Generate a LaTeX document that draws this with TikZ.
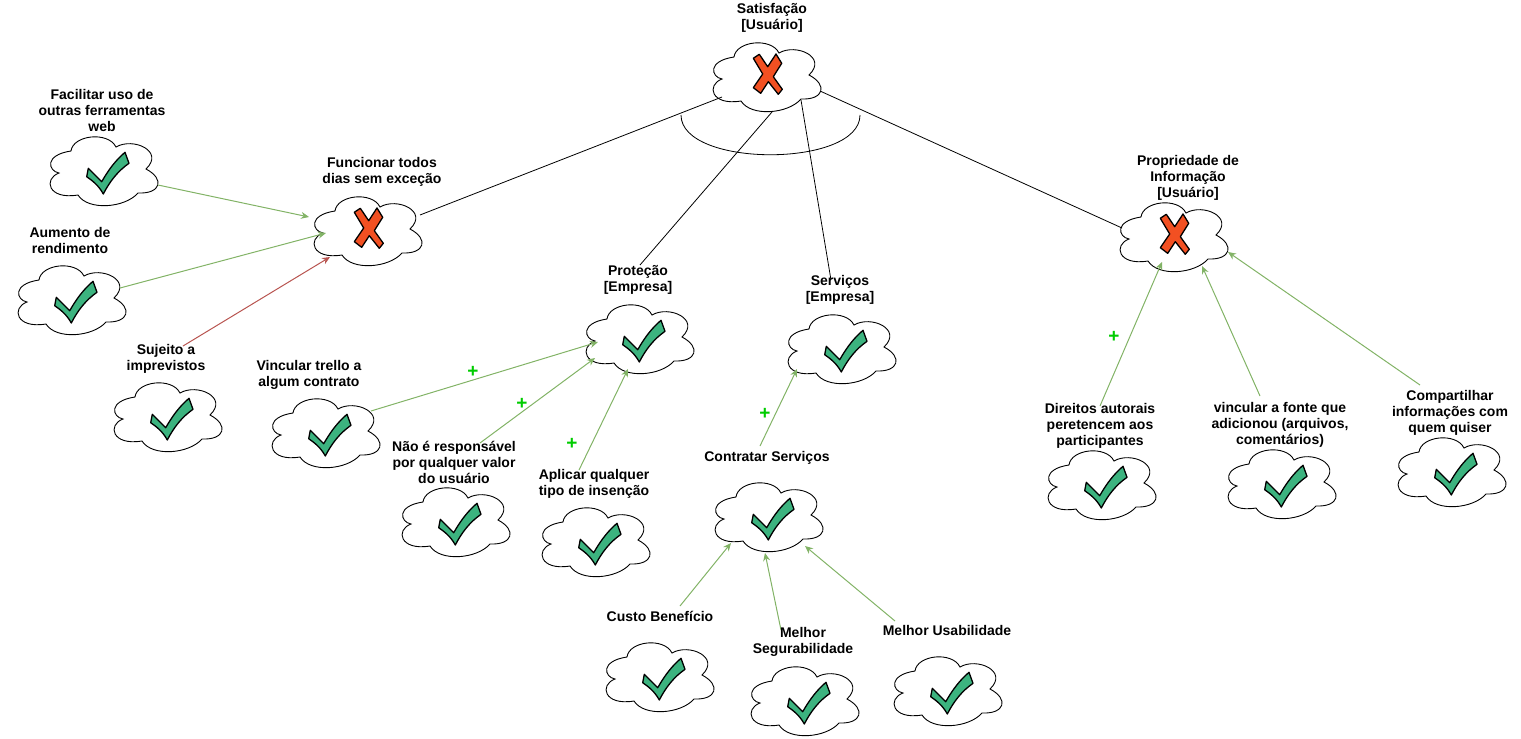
\documentclass[tikz,border=0pt]{standalone}
\usepackage{fontspec}
\setmainfont{Liberation Sans}
\usetikzlibrary{arrows.meta}
\definecolor{okgreen}{HTML}{82B366}
\definecolor{badred}{HTML}{B85450}
\definecolor{plusgreen}{HTML}{00CC00}
\definecolor{checkfill}{HTML}{3CB37F}
\definecolor{crossfill}{HTML}{F25022}
\tikzset{
  lab/.style={align=center, inner sep=0pt, font=\fontsize{14}{16}\selectfont\bfseries},
  hub/.style={inner sep=0pt, minimum size=0pt},
  plusmark/.style={inner sep=0pt, text=plusgreen, font=\fontsize{19}{19}\selectfont\bfseries},
  good/.style={->, okgreen, line width=1pt},
  bad/.style={->, badred, line width=1pt},
  link/.style={black, line width=0.8pt},
  cloudy/.pic={
    \draw[line width=0.9pt, fill=white] (-45,2) .. controls (-56,0) and (-60,-16) .. (-33,-20)
      .. controls (-31,-36) and (4,-40) .. (12,-24)
      .. controls (29,-34) and (61,-20) .. (42,-2)
      .. controls (61,8) and (57,23) .. (34,22)
      .. controls (21,37) and (-16,40) .. (-26,24)
      .. controls (-56,29) and (-61,8) .. cycle;
  },
  okmark/.pic={
    \pic {cloudy};
    \draw[line width=1.3pt, fill=checkfill, line join=round] (-15.7,-2.7) -- (-2.3,10.7)
      .. controls (5,-2) and (12,-11) .. (21,-18.7) -- (25,-7.7)
      .. controls (14,0) and (6,10) .. (-0.7,23) .. controls (-5,15) and (-11,10) .. (-17.3,5.7) -- cycle;
  },
  nomark/.pic={
    \pic {cloudy};
    \draw[line width=1.3pt, fill=crossfill, line join=round] (-13.7,-18.7) -- (-7.7,-22.7) -- (0.7,-10.3)
      -- (9,-23) -- (14.7,-13.7) -- (6.3,-0.3) -- (15.3,12.3) -- (11.3,17.3) -- (1.3,4.7)
      -- (-6.3,16.3) -- (-13.7,10.7) -- (-4.3,-3) -- cycle;
  }
}

\begin{document}
\begin{tikzpicture}[x=1pt, y=-1pt, >={Stealth[length=8pt,width=7pt]}]
  \useasboundingbox (0,0) rectangle (1521,739);

  % clouds
  \node(sat)[hub] at (767,77) {};
  \node(facil)[hub] at (104,171) {};
  \node(aum)[hub] at (72,300) {};
  \node(func)[hub] at (368,231) {};
  \node(suj)[hub] at (168,417) {};
  \node(vinc)[hub] at (326,433) {};
  \node(nao)[hub] at (456,522) {};
  \node(apl)[hub] at (596,542) {};
  \node(prot)[hub] at (640,339) {};
  \node(serv)[hub] at (842,349) {};
  \node(contr)[hub] at (769,517) {};
  \node(custo)[hub] at (660,677) {};
  \node(segur)[hub] at (805,701) {};
  \node(usab)[hub] at (948,691) {};
  \node(prop)[hub] at (1174,237) {};
  \node(dir)[hub] at (1102,485) {};
  \node(fonte)[hub] at (1282,484) {};
  \node(comp)[hub] at (1452,472) {};

  \pic at (sat) {nomark};
  \pic at (func) {nomark};
  \pic at (prop) {nomark};
  \pic at (facil) {okmark};
  \pic at (aum) {okmark};
  \pic at (suj) {okmark};
  \pic at (vinc) {okmark};
  \pic at (nao) {okmark};
  \pic at (apl) {okmark};
  \pic at (prot) {okmark};
  \pic at (serv) {okmark};
  \pic at (contr) {okmark};
  \pic at (custo) {okmark};
  \pic at (segur) {okmark};
  \pic at (usab) {okmark};
  \pic at (dir) {okmark};
  \pic at (fonte) {okmark};
  \pic at (comp) {okmark};

  % links
  \draw[link] ([shift={(52,-16)}]func.center) -- ([shift={(-45,20)}]sat.center);
  \draw[link] ([shift={(0,-74)}]prot.center) -- ([shift={(5,35)}]sat.center);
  \draw[link] ([shift={(-11,-69)}]serv.center) -- ([shift={(34,23)}]sat.center);
  \draw[link] ([shift={(-52,-9)}]prop.center) -- ([shift={(53,14)}]sat.center);
  \draw[good] ([shift={(54,14)}]facil.center) -- ([shift={(-59,-14)}]func.center);
  \draw[good] ([shift={(48,-12)}]aum.center) -- ([shift={(-42,2)}]func.center);
  \draw[bad] ([shift={(15,-71)}]suj.center) -- ([shift={(-38,26)}]func.center);
  \draw[good] ([shift={(45,-22)}]vinc.center) -- ([shift={(-42,3)}]prot.center);
  \draw[good] ([shift={(24,-79)}]nao.center) -- ([shift={(-45,19)}]prot.center);
  \draw[good] ([shift={(-17,-72)}]apl.center) -- ([shift={(-12,30)}]prot.center);
  \draw[good] ([shift={(-9,-71)}]contr.center) -- ([shift={(-45,20)}]serv.center);
  \draw[good] ([shift={(20,-71)}]custo.center) -- ([shift={(-38,26)}]contr.center);
  \draw[good] ([shift={(-24,-71)}]segur.center) -- ([shift={(-4,36)}]contr.center);
  \draw[good] ([shift={(-53,-70)}]usab.center) -- ([shift={(36,29)}]contr.center);
  \draw[good] ([shift={(-2,-79)}]dir.center) -- ([shift={(-12,25)}]prop.center);
  \draw[good] ([shift={(-22,-88)}]fonte.center) -- ([shift={(28,29)}]prop.center);
  \draw[good] ([shift={(-32,-87)}]comp.center) -- ([shift={(54,15)}]prop.center);

  % and-decomposition arc
  \draw[link] ([shift={(-86,38)}]sat.center) .. controls ([shift={(-86,91)}]sat.center) and ([shift={(93,91)}]sat.center) .. ([shift={(93,38)}]sat.center);

  % labels
  \node(tsat)[lab] at (772,18) {Satisfação\\{[Usuário]}};
  \node(tfacil)[lab] at (102,110) {Facilitar uso de\\outras ferramentas\\web};
  \node(taum)[lab] at (70,240) {Aumento de\\rendimento};
  \node(tfunc)[lab] at (382,172) {Funcionar todos\\dias sem exceção};
  \node(tsuj)[lab] at (166,359) {Sujeito a\\imprevistos};
  \node(tvinc)[lab] at (309,375) {Vincular trello a\\algum contrato};
  \node(tnao)[lab] at (454,462) {Não é responsável\\por qualquer valor\\do usuário};
  \node(tapl)[lab] at (594,484) {Aplicar qualquer\\tipo de insenção};
  \node(tprot)[lab] at (638,280) {Proteção\\{[Empresa]}};
  \node(tserv)[lab] at (840,290) {Serviços\\{[Empresa]}};
  \node(tcontr)[lab] at (767,458) {Contratar Serviços};
  \node(tcusto)[lab] at (660,616) {Custo Benefício};
  \node(tsegur)[lab] at (803,642) {Melhor\\Segurabilidade};
  \node(tusab)[lab] at (947,630) {Melhor Usabilidade};
  \node(tprop)[lab] at (1188,178) {Propriedade de\\Informação\\{[Usuário]}};
  \node(tdir)[lab] at (1100,426) {Direitos autorais\\peretencem aos\\participantes};
  \node(tfonte)[lab] at (1280,425) {vincular a fonte que\\adicionou (arquivos,\\comentários)};
  \node(tcomp)[lab] at (1450,413) {Compartilhar\\informações com\\quem quiser};

  \node(p1)[plusmark] at (473,372) {+};
  \node(p2)[plusmark] at (522,404) {+};
  \node(p3)[plusmark] at (572,444) {+};
  \node(p4)[plusmark] at (765,414) {+};
  \node(p5)[plusmark] at (1114,337) {+};
\end{tikzpicture}
\end{document}
